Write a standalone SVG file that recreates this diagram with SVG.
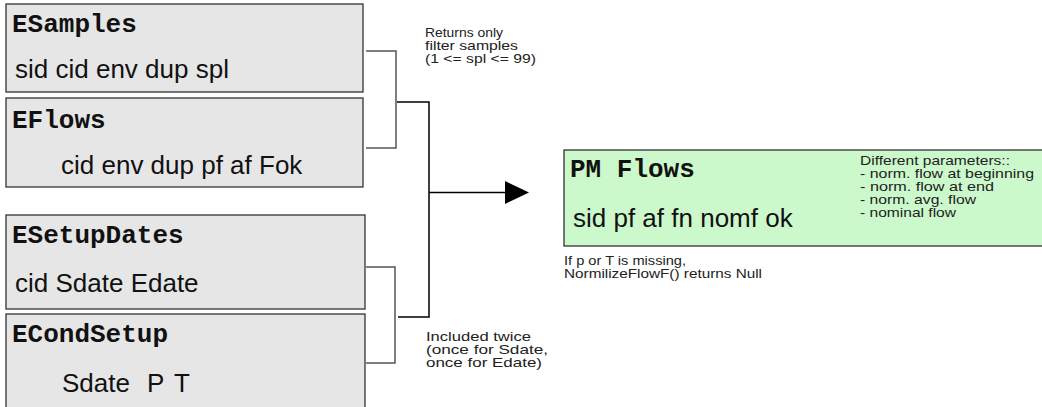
<svg xmlns="http://www.w3.org/2000/svg" width="1042" height="407" viewBox="0 0 1042 407">
<style>
.box{fill:#e6e6e6;stroke:#333;stroke-width:1.3}
.gbox{fill:#ccf9cc;stroke:#333;stroke-width:1.3}
.title{font-family:"Liberation Mono","Courier New",monospace;font-weight:bold;font-size:26px;fill:#111}
.attr{font-family:"Liberation Sans",Arial,sans-serif;font-size:26px;fill:#111}
.note{font-family:"Liberation Sans",Arial,sans-serif;font-size:13px;fill:#222}
.br{fill:none;stroke:#555;stroke-width:1.5}
.main{fill:none;stroke:#000;stroke-width:1.5}
</style>
<rect width="1042" height="407" fill="#fff"/>
<g id="ESamples">
<rect class="box" x="6" y="4" width="357" height="88"/>
<text class="title" x="12" y="32">ESamples</text>
<text class="attr" x="15" y="78">sid cid env dup spl</text>
</g>
<g id="EFlows">
<rect class="box" x="6" y="98" width="357" height="89"/>
<text class="title" x="12" y="128">EFlows</text>
<text class="attr" x="61" y="174">cid env dup pf af Fok</text>
</g>
<g id="ESetupDates">
<rect class="box" x="6" y="215" width="359" height="94"/>
<text class="title" x="12" y="243">ESetupDates</text>
<text class="attr" x="15" y="292">cid Sdate Edate</text>
</g>
<g id="ECondSetup">
<rect class="box" x="6" y="314" width="359" height="100"/>
<text class="title" x="12" y="342">ECondSetup</text>
<text class="attr" y="392"><tspan x="62">Sdate</tspan><tspan x="147">P</tspan><tspan x="174">T</tspan></text>
</g>
<g id="PMFlows">
<rect class="gbox" x="564" y="150" width="490" height="96"/>
<text class="title" x="570" y="177">PM Flows</text>
<text class="attr" x="573" y="227">sid pf af fn nomf ok</text>
<text class="note"><tspan x="860" y="165" textLength="150" lengthAdjust="spacingAndGlyphs">Different parameters::</tspan><tspan x="860" y="178" textLength="174" lengthAdjust="spacingAndGlyphs">- norm. flow at beginning</tspan><tspan x="860" y="191" textLength="134" lengthAdjust="spacingAndGlyphs">- norm.  flow at end</tspan><tspan x="860" y="204" textLength="116" lengthAdjust="spacingAndGlyphs">- norm. avg. flow</tspan><tspan x="860" y="217" textLength="96" lengthAdjust="spacingAndGlyphs">- nominal flow</tspan></text>
</g>
<g id="connectors">
<polyline class="br" points="366,51 396,51 396,148 366,148"/>
<polyline class="br" points="366,267 395,267 395,363 366,363"/>
<polyline class="main" points="397,102 429,102 429,317 398,317"/>
<line class="main" x1="429" y1="192.5" x2="507" y2="192.5"/>
<polygon points="505,181 529,192.5 505,204" fill="#000"/>
</g>
<g id="notes">
<text class="note"><tspan x="425" y="37" textLength="78" lengthAdjust="spacingAndGlyphs">Returns only</tspan><tspan x="425" y="50" textLength="93" lengthAdjust="spacingAndGlyphs">filter samples</tspan><tspan x="425" y="63" textLength="111" lengthAdjust="spacingAndGlyphs">(1 &lt;= spl &lt;= 99)</tspan></text>
<text class="note"><tspan x="426" y="341" textLength="105" lengthAdjust="spacingAndGlyphs">Included twice</tspan><tspan x="426" y="354" textLength="122" lengthAdjust="spacingAndGlyphs">(once for Sdate,</tspan><tspan x="426" y="367" textLength="116" lengthAdjust="spacingAndGlyphs">once for Edate)</tspan></text>
<text class="note"><tspan x="564" y="265" textLength="122" lengthAdjust="spacingAndGlyphs">If p or T is missing,</tspan><tspan x="564" y="278" textLength="198" lengthAdjust="spacingAndGlyphs">NormilizeFlowF() returns Null</tspan></text>
</g>
</svg>
